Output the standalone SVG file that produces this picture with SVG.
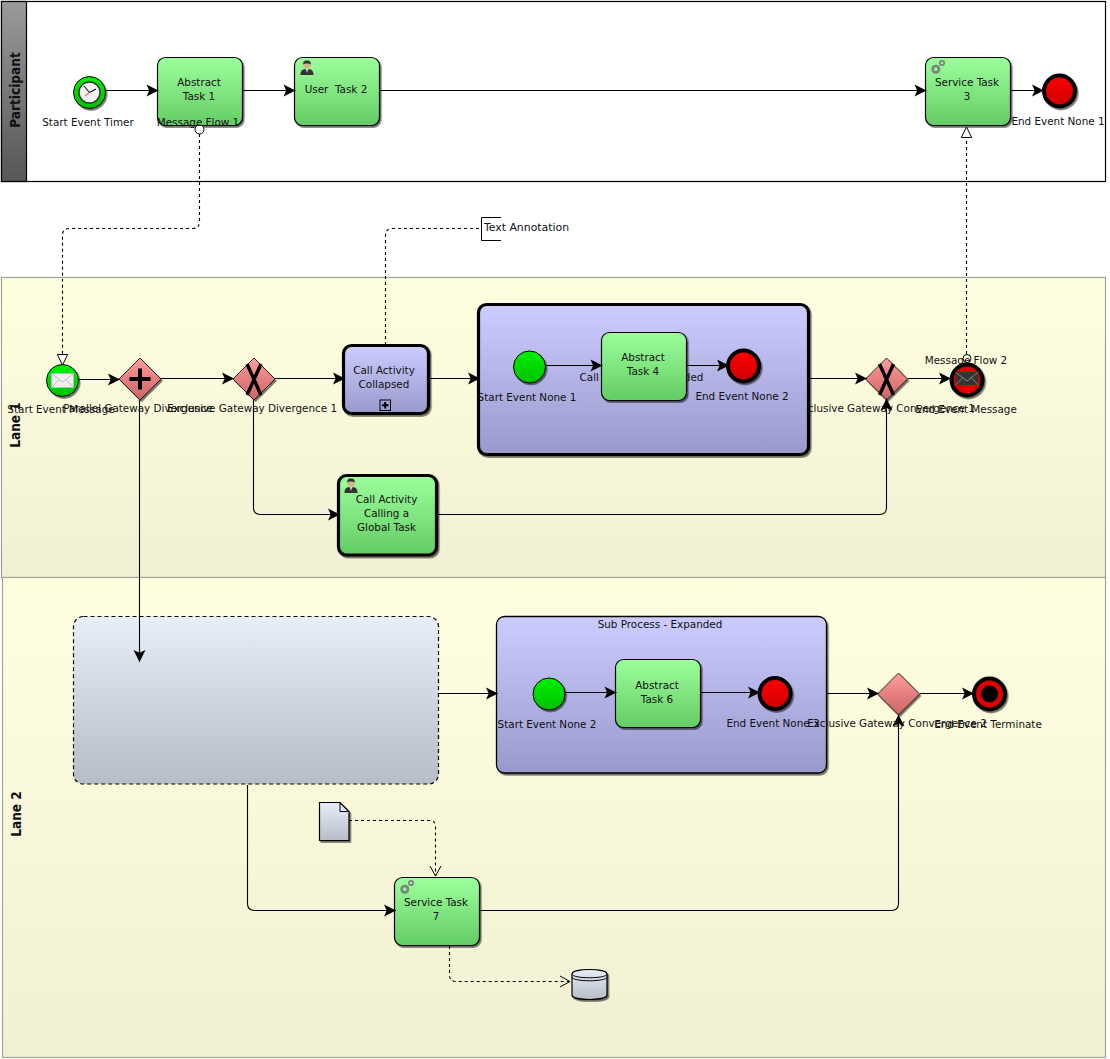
<svg xmlns="http://www.w3.org/2000/svg" width="1110" height="1059" viewBox="0 0 1110 1059">
<style>
text{font-family:"DejaVu Sans","Liberation Sans",sans-serif;font-size:10.4px;fill:#111;text-anchor:middle}
.title{font-size:13.5px;font-weight:bold;font-stretch:condensed;font-family:"DejaVu Sans Condensed","DejaVu Sans",sans-serif;fill:#111}
.flow{fill:none;stroke:#000;stroke-width:1.1}
.seq{marker-end:url(#arrow)}
.dash{stroke-dasharray:3 3}
.task{fill:url(#gTask);stroke:#000;stroke-width:1.2;filter:url(#sh)}
.thick{stroke-width:3.2}
.purple{fill:url(#gSub);stroke:#000;filter:url(#sh)}
.gw{fill:url(#gGw);stroke:#000;stroke-width:.8;filter:url(#sh)}
.start{fill:url(#gStart);stroke:#000;stroke-width:1;filter:url(#sh)}
.end{fill:url(#gEnd);stroke:#000;stroke-width:4;filter:url(#sh)}
.art{fill:url(#gArt);stroke:#000;stroke-width:1.2;filter:url(#sh)}
.lane{stroke:#a4a494;stroke-width:1.2;fill:url(#gLane)}
.mark{fill:none;stroke:#000;stroke-width:4}
</style>
<defs>
<linearGradient id="gTask" x1="0" y1="0" x2="0" y2="1"><stop offset="0" stop-color="#9cff9c"/><stop offset="1" stop-color="#64cc64"/></linearGradient>
<linearGradient id="gSub" x1="0" y1="0" x2="0" y2="1"><stop offset="0" stop-color="#ccccff"/><stop offset="1" stop-color="#9999cc"/></linearGradient>
<linearGradient id="gGw" x1="0" y1="0" x2="0" y2="1"><stop offset="0" stop-color="#ff9c9c"/><stop offset="1" stop-color="#cc6464"/></linearGradient>
<linearGradient id="gStart" x1="0" y1="0" x2="0" y2="1"><stop offset="0" stop-color="#00f000"/><stop offset="1" stop-color="#00c000"/></linearGradient>
<linearGradient id="gEnd" x1="0" y1="0" x2="0" y2="1"><stop offset="0" stop-color="#ff0000"/><stop offset="1" stop-color="#cc0000"/></linearGradient>
<linearGradient id="gArt" x1="0" y1="0" x2="0" y2="1"><stop offset="0" stop-color="#e8eef8"/><stop offset="1" stop-color="#b6bdc8"/></linearGradient>
<linearGradient id="gLane" x1="0" y1="0" x2="0" y2="1"><stop offset="0" stop-color="#ffffe0"/><stop offset="1" stop-color="#f2f0d4"/></linearGradient>
<linearGradient id="gHead" x1="0" y1="0" x2="0" y2="1"><stop offset="0" stop-color="#9a9a9a"/><stop offset="1" stop-color="#565656"/></linearGradient>
<filter id="sh" x="-15%" y="-15%" width="130%" height="130%"><feDropShadow dx="1.5" dy="1.8" stdDeviation=".6" flood-color="#000" flood-opacity=".55"/></filter>
<marker id="arrow" markerUnits="userSpaceOnUse" markerWidth="14" markerHeight="14" refX="12.500" refY="7" orient="auto"><path d="M.5,1 L12.500,7 L.5,13 L3.200,7 Z" fill="#000"/></marker>
<marker id="tri" markerUnits="userSpaceOnUse" markerWidth="14" markerHeight="14" refX="11.500" refY="7" orient="auto"><path d="M1,1.800 L11.500,7 L1,12.200 Z" fill="#fff" stroke="#000"/></marker>
<marker id="open" markerUnits="userSpaceOnUse" markerWidth="14" markerHeight="14" refX="11" refY="7" orient="auto"><path d="M1,1.500 L11,7 L1,12.500" fill="none" stroke="#000"/></marker>
<symbol id="person" width="14" height="16" viewBox="0 0 14 16" overflow="visible"><path d="M0.5,15 C0.5,10.500 2.500,9.500 5,9 L7,10.500 L9,9 C11.500,9.500 13.500,10.500 13.500,15 Z" fill="#333"/><path d="M6,9.500 L7,13 L8,9.500 Z" fill="#ddd"/><circle cx="7" cy="5" r="3.600" fill="#d9b08c"/><path d="M3.200,4.600 C3,1 5,.6 7,.6 C9,.6 11,1 10.800,4.600 C9.500,3 4.500,3 3.200,4.600 Z" fill="#333"/></symbol>
<symbol id="gear" width="14" height="14" viewBox="0 0 14 14" overflow="visible"><circle cx="4.800" cy="9.200" r="3.200" fill="none" stroke="#808080" stroke-width="2.600"/><circle cx="11" cy="3" r="2.200" fill="none" stroke="#808080" stroke-width="1.800"/></symbol>
</defs>

<g id="pool-participant">
<rect x="1.500" y="1.500" width="1104" height="180" fill="#fff" stroke="#000" stroke-width="1.200"/>
<rect x="1.500" y="1.500" width="25" height="180" fill="url(#gHead)" stroke="#000" stroke-width="1.200"/>
<text class="title" transform="translate(20,90) rotate(-90)">Participant</text>
</g>
<g id="lane-1">
<rect class="lane" x="1.500" y="277.500" width="1104" height="300"/>
<text class="title" transform="translate(20,425) rotate(-90)">Lane 1</text>
</g>
<g id="lane-2">
<rect class="lane" x="2.500" y="577.500" width="1103" height="480"/>
<text class="title" transform="translate(21,814) rotate(-90)">Lane 2</text>
</g>

<g id="gateway-conv-1-label">
<text x="885" y="412">Exclusive Gateway Convergence 1</text>
</g>
<g id="subprocess-call-expanded">
<rect class="purple thick" x="478.500" y="304.500" width="330" height="150" rx="8"/>
<text x="641.500" y="381">Call Activity - Expanded</text>
</g>
<g id="subprocess-expanded">
<rect class="purple" stroke-width="1.300" x="496.500" y="616.500" width="330" height="156.500" rx="8"/>
<text x="660" y="628">Sub Process - Expanded</text>
</g>
<g id="group-box">
<rect x="73.500" y="616.500" width="365" height="167.500" rx="10" fill="url(#gArt)" stroke="#000" stroke-width="1.200" stroke-dasharray="4 3"/>
</g>

<g id="start-timer">
<circle class="start" cx="89.500" cy="92.500" r="16"/>
<circle cx="89.500" cy="92.500" r="10.500" fill="#f2f2f2" stroke="#333" stroke-width="1.400"/>
<path d="M89.500,92.500 L84,86 M89.500,92.500 L96,89" stroke="#111" stroke-width="1.100" fill="none"/>
<path d="M89.500,92.500 L85,96" stroke="#e66" stroke-width="1.100" fill="none"/>
<text x="88" y="126">Start Event Timer</text>
</g>
<g id="task-1">
<rect class="task" x="157.500" y="57.500" width="85" height="68" rx="8"/>
<text x="199" y="86">Abstract</text><text x="199" y="100">Task 1</text>
</g>
<g id="task-2">
<rect class="task" x="294.500" y="57.500" width="85" height="68" rx="8"/>
<use href="#person" x="300" y="60"/>
<text x="336" y="93" xml:space="preserve">User  Task 2</text>
</g>
<g id="task-3">
<rect class="task" x="925.500" y="57.500" width="85" height="68" rx="8"/>
<use href="#gear" x="931" y="60"/>
<text x="967" y="86">Service Task</text><text x="967" y="100">3</text>
</g>
<g id="end-1">
<circle class="end" cx="1059.500" cy="91" r="15.500"/>
<text x="1058" y="125">End Event None 1</text>
</g>

<g id="annotation">
<path d="M501,217.500 H481.500 V240.500 H501" fill="none" stroke="#000"/>
<text x="526.500" y="231" style="font-size:10.900px">Text Annotation</text>
</g>

<g id="start-message">
<circle class="start" cx="62.500" cy="380.500" r="16"/>
<path d="M51.500,373.500 H73.500 V387.500 H51.500 Z" fill="#eee" stroke="#bbb"/>
<path d="M51.500,373.500 L62.500,382 L73.500,373.500 M51.500,387.500 L59,379.500 M73.500,387.500 L66,379.500" fill="none" stroke="#bbb"/>
<text x="61" y="412.500">Start Event Message</text>
</g>
<g id="gateway-parallel">
<path class="gw" d="M140,358 L161,379 L140,400 L119,379 Z"/>
<path d="M140,368.500 V389.500 M129.500,379 H150.500" class="mark"/>
<text x="138" y="411.500">Parallel Gateway Divergence</text>
</g>
<g id="gateway-div">
<path class="gw" d="M254,358 L275,379 L254,400 L233,379 Z"/>
<path d="M247,364 L261,395 M261,364 L247,395" class="mark" style="stroke-width:3.400"/>
<text x="252" y="411.500">Exclusive Gateway Divergence 1</text>
</g>
<g id="call-collapsed">
<rect class="purple thick" x="343.500" y="345.500" width="85" height="68" rx="8"/>
<text x="384" y="374">Call Activity</text><text x="384" y="388">Collapsed</text>
<rect x="380" y="400" width="10.500" height="10.500" fill="none" stroke="#000"/>
<path d="M385.200,402 V408.500 M382,405.200 H388.500" stroke="#000" stroke-width="2"/>
</g>
<g id="call-global">
<rect class="task thick" x="338.500" y="475.500" width="98" height="79.500" rx="8"/>
<use href="#person" x="344" y="478"/>
<text x="386.500" y="503">Call Activity</text><text x="386.500" y="517">Calling a</text><text x="386.500" y="531">Global Task</text>
</g>
<g id="start-none-1">
<circle class="start" cx="529.500" cy="367" r="16"/>
<text x="527" y="400.500">Start Event None 1</text>
</g>
<g id="task-4">
<rect class="task" x="601.500" y="332.500" width="85" height="68" rx="8"/>
<text x="643" y="361">Abstract</text><text x="643" y="375">Task 4</text>
</g>
<g id="end-none-2">
<circle class="end" cx="743.500" cy="366" r="15.500"/>
<text x="742" y="399.500">End Event None 2</text>
</g>
<g id="gateway-conv-1">
<path class="gw" d="M886.500,358 L907.500,379 L886.500,400 L865.500,379 Z"/>
<path d="M879.500,364 L893.500,395 M893.500,364 L879.500,395" class="mark" style="stroke-width:3.400"/>
</g>
<g id="end-message">
<circle cx="967" cy="380" r="15.500" fill="#e00000" stroke="#000" stroke-width="4" filter="url(#sh)"/>
<path d="M955.500,372 H978.500 V385 H955.500 Z" fill="#333"/>
<path d="M955.500,372 L967,381 L978.500,372 M955.500,385 L963,377.500 M978.500,385 L971,377.500" fill="none" stroke="#999" stroke-width=".8"/>
<text x="966" y="412.500">End Event Message</text>
</g>
<g id="start-none-2">
<circle class="start" cx="549" cy="694" r="16"/>
<text x="547" y="728">Start Event None 2</text>
</g>
<g id="task-6">
<rect class="task" x="615.500" y="659.500" width="85" height="68" rx="8"/>
<text x="657" y="689">Abstract</text><text x="657" y="703">Task 6</text>
</g>
<g id="end-none-3">
<circle class="end" cx="775" cy="693.500" r="15.500"/>
<text x="773" y="727">End Event None 3</text>
</g>
<g id="gateway-conv-2">
<path class="gw" d="M898.500,673 L919.500,694 L898.500,715 L877.500,694 Z"/>
<text x="897" y="727">Exclusive Gateway Convergence 2</text>
</g>
<g id="end-terminate">
<circle cx="989.500" cy="694" r="15.500" fill="#e00000" stroke="#000" stroke-width="4" filter="url(#sh)"/>
<circle cx="989.500" cy="694" r="8.500" fill="#000"/>
<text x="988" y="728">End Event Terminate</text>
</g>
<g id="document">
<path class="art" d="M319.500,802.500 H340 L349,811.500 V840.500 H319.500 Z"/>
<path d="M340,802.500 V811.500 H349" fill="none" stroke="#000"/>
</g>
<g id="task-7">
<rect class="task" x="394.500" y="877.500" width="85" height="68" rx="8"/>
<use href="#gear" x="400" y="880"/>
<text x="436" y="906">Service Task</text><text x="436" y="920">7</text>
</g>
<g id="datastore">
<path class="art" d="M572,974 C572,968 607,968 607,974 V995 C607,1001 572,1001 572,995 Z"/>
<path d="M572,974 C572,979 607,979 607,974 M572,977 C572,982 607,982 607,977" fill="none" stroke="#000"/>
</g>

<g id="connectors">
<path class="flow seq" d="M106,90.500 H158.500"/>
<path class="flow seq" d="M243,90.500 H295.500"/>
<path class="flow seq" d="M380,90.500 H926.500"/>
<path class="flow seq" d="M1011,90.500 H1044"/>
<path class="flow seq" d="M79,379.500 H120"/>
<path class="flow seq" d="M161,378.500 H234"/>
<path class="flow seq" d="M275,378.500 H345"/>
<path class="flow seq" d="M429,378.500 H480"/>
<path class="flow seq" d="M809,378.500 H867"/>
<path class="flow seq" d="M908,378.500 H951"/>
<path class="flow seq" d="M546,365.500 H602.500"/>
<path class="flow seq" d="M687,365.500 H729"/>
<path class="flow seq" d="M565,692.500 H616.500"/>
<path class="flow seq" d="M701,692.500 H760"/>
<path class="flow seq" d="M439,693.500 H498"/>
<path class="flow seq" d="M827,693.500 H879"/>
<path class="flow seq" d="M920,693.500 H974"/>
<path class="flow seq" d="M139.500,400 V662"/>
<path class="flow seq" d="M253.500,400 V507.500 Q253.500,514.500 260.500,514.500 H340"/>
<path class="flow seq" d="M437,514.500 H879.500 Q886.500,514.500 886.500,507.500 V398.500"/>
<path class="flow seq" d="M247.500,785 V903.500 Q247.500,910.500 254.500,910.500 H396"/>
<path class="flow seq" d="M480,910.500 H891.500 Q898.500,910.500 898.500,903.500 V714.500"/>
<path class="flow dash" marker-end="url(#tri)" d="M199.500,134 V221.500 Q199.500,228.500 192.500,228.500 H69.500 Q62.500,228.500 62.500,235.500 V365"/>
<circle cx="199.500" cy="129.500" r="4.500" fill="#fff" stroke="#000"/>
<path class="flow dash" marker-end="url(#tri)" d="M966.500,354 V127"/>
<circle cx="967" cy="358.500" r="4" fill="none" stroke="#000"/>
<path class="flow dash" d="M385.500,345 V235.500 Q385.500,228.500 392.500,228.500 H481"/>
<path class="flow dash" marker-end="url(#open)" d="M349,820.500 H429.500 Q435.500,820.500 435.500,826.500 V876"/>
<path class="flow dash" marker-end="url(#open)" d="M449.500,946 V975 Q449.500,981.500 456,981.500 H570"/>
</g>
<g id="flow-labels">
<text x="198" y="126">Message Flow 1</text>
<text x="966" y="363.500">Message Flow 2</text>
</g>
</svg>
